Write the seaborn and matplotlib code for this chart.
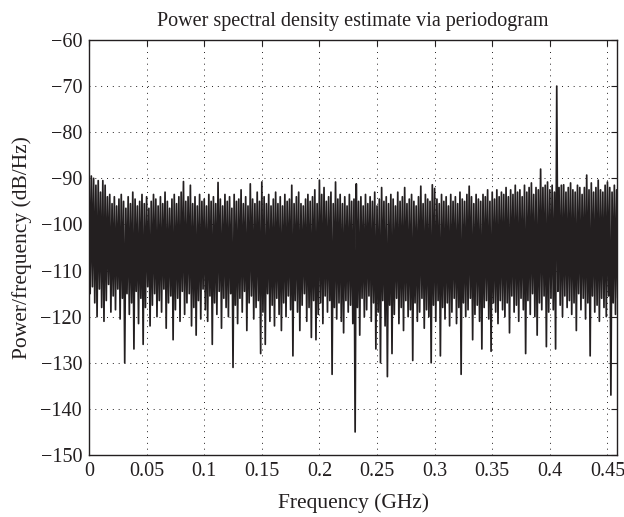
import numpy as np
import pandas as pd
import matplotlib
matplotlib.use("Agg")
import matplotlib.pyplot as plt
import seaborn as sns

# Upper excursions of the periodogram (dB/Hz), one per 0.002 GHz bin pair
hi_vals = [
    -88.0, -89.5, -90.0, -91.5, -90.5, -93.0, -90.5, -91.5, -94.0, -93.5,
    -95.5, -94.0, -96.0, -94.5, -93.5, -95.0, -96.5, -94.0, -95.5, -93.0,
    -94.5, -96.0, -95.0, -93.5, -95.5, -94.0, -96.5, -95.0, -93.5, -94.5,
    -96.0, -94.0, -95.5, -93.0, -95.0, -96.5, -94.5, -93.5, -95.5, -94.0,
    -93.0, -90.7, -95.0, -94.0, -91.5, -95.5, -94.0, -96.0, -93.5, -95.0,
    -94.5, -96.0, -93.5, -95.0, -94.0, -95.5, -90.9, -94.5, -96.0, -93.5,
    -95.0, -94.0, -96.5, -93.5, -95.0, -94.5, -92.5, -95.5, -94.0, -96.0,
    -91.2, -94.5, -95.5, -93.0, -95.0, -90.8, -94.0, -95.5, -93.5, -96.0,
    -94.5, -93.0, -95.5, -94.0, -96.0, -93.5, -95.0, -94.5, -91.5, -95.5,
    -94.0, -93.0, -95.5, -96.0, -94.5, -93.5, -95.0, -94.0, -92.5, -95.5,
    -90.4, -93.5, -92.0, -95.0, -94.0, -93.0, -95.5, -90.8, -94.5, -93.5,
    -95.5, -94.0, -96.0, -93.5, -95.0, -94.5, -91.2, -95.0, -94.0, -96.0,
    -93.5, -95.5, -94.0, -95.0, -93.0, -96.0, -94.5, -92.0, -95.0, -94.0,
    -95.5, -93.5, -94.5, -96.0, -93.0, -95.0, -94.0, -92.0, -95.5, -94.5,
    -93.5, -95.0, -96.0, -94.0, -91.7, -95.5, -93.5, -94.5, -95.0, -91.4,
    -92.2, -94.5, -95.5, -93.5, -95.0, -94.0, -96.0, -93.5, -95.0, -94.0,
    -95.5, -93.0, -94.5, -95.0, -93.5, -91.7, -94.0, -95.5, -93.5, -94.5,
    -95.0, -93.5, -94.0, -92.5, -95.0, -93.0, -94.5, -92.5, -94.0, -93.0,
    -93.5, -92.0, -94.0, -92.5, -93.5, -91.5, -93.0, -92.5, -94.0, -91.5,
    -93.0, -92.0, -91.0, -93.5, -92.0, -92.5, -88.0, -92.0, -91.5, -90.8,
    -92.5, -91.5, -93.0, -70.0, -92.0, -91.5, -91.4, -93.0, -92.0, -91.0,
    -92.5, -93.0, -91.5, -92.0, -93.5, -92.0, -89.3, -92.5, -91.0, -93.0,
    -92.0, -90.4, -92.5, -93.0, -91.5, -90.8, -92.0, -93.0, -91.5, -92.5,
]

# Lower excursions of the periodogram (dB/Hz)
lo_vals = [
    -115.0, -113.5, -117.0, -120.0, -114.0, -118.0, -121.0, -116.5, -113.0, -119.0,
    -115.5, -118.5, -114.0, -120.5, -116.0, -130.0, -115.0, -119.5, -117.0, -127.0,
    -114.5, -121.5, -116.0, -126.0, -118.0, -113.5, -122.0, -117.5, -115.0, -120.0,
    -116.5, -119.0, -114.0, -122.5, -117.0, -115.5, -125.0, -118.5, -116.0, -121.0,
    -114.5, -119.5, -117.0, -115.0, -122.0, -118.0, -124.0, -116.5, -120.5, -114.0,
    -118.5, -121.0, -115.5, -126.0, -117.0, -119.5, -114.5, -122.5, -116.0, -118.0,
    -120.0, -115.0, -131.0, -117.5, -121.5, -116.0, -119.0, -114.5, -123.0, -117.0,
    -115.5, -120.5, -118.0, -116.5, -128.0, -119.0, -126.0, -115.0, -121.0, -117.5,
    -122.0, -116.0, -119.5, -123.0, -117.0, -120.0, -115.5, -118.5, -128.5, -116.5,
    -119.0, -123.0, -117.5, -115.0, -121.0, -118.0, -124.5, -116.5, -125.0, -119.5,
    -117.0, -121.5, -115.5, -119.0, -116.5, -132.5, -118.0, -120.5, -117.0, -121.0,
    -123.5, -116.5, -119.0, -117.5, -121.5, -145.0, -118.0, -124.0, -116.0, -120.0,
    -118.5, -115.5, -121.0, -117.0, -127.0, -119.0, -130.0, -116.5, -122.0, -133.0,
    -117.5, -128.0, -119.5, -116.0, -121.5, -118.0, -123.0, -116.5, -120.0, -118.5,
    -129.5, -117.0, -121.0, -119.0, -116.0, -122.5, -118.5, -120.0, -130.0, -117.5,
    -121.0, -116.5, -128.5, -118.0, -120.5, -117.0, -122.0, -119.0, -116.0, -121.5,
    -118.0, -132.5, -117.0, -120.0, -118.5, -116.0, -125.0, -119.5, -117.5, -121.0,
    -127.0, -118.0, -116.5, -120.5, -127.5, -117.0, -119.0, -121.5, -116.5, -118.5,
    -120.0, -117.0, -123.5, -115.5, -119.0, -117.5, -121.0, -116.0, -118.5, -128.0,
    -116.5, -119.5, -115.0, -120.0, -124.0, -117.0, -118.5, -115.5, -126.5, -119.0,
    -116.0, -118.5, -127.0, -114.5, -117.5, -120.0, -115.5, -118.0, -116.5, -119.5,
    -117.0, -123.0, -115.0, -118.5, -116.0, -120.5, -117.0, -128.5, -115.5, -119.0,
    -117.5, -121.0, -116.0, -118.0, -120.0, -115.5, -137.0, -117.0, -119.5, -116.0,
]

bin_step = 0.001  # GHz between consecutive periodogram samples
x_ticks = [0, 0.05, 0.1, 0.15, 0.2, 0.25, 0.3, 0.35, 0.4, 0.45]
x_tick_labels = ["0", "0.05", "0.1", "0.15", "0.2", "0.25", "0.3", "0.35", "0.4", "0.45"]
y_ticks = [-150, -140, -130, -120, -110, -100, -90, -80, -70, -60]

# interleave upper/lower samples into one periodogram trace
psd = []
for h, l in zip(hi_vals, lo_vals):
    psd.append(h)
    psd.append(l)
freq = np.arange(len(psd)) * bin_step
df = pd.DataFrame({"Frequency": freq, "PSD": psd})

sns.set_theme(style="white")
plt.rcParams["font.family"] = ["Liberation Serif", "DejaVu Serif"]
plt.rcParams["axes.unicode_minus"] = True

fig = plt.figure(figsize=(6.24, 5.17), dpi=100)
ax = fig.add_axes([89 / 624, 62 / 517, 528 / 624, 415 / 517])

sns.lineplot(data=df, x="Frequency", y="PSD", ax=ax, color="#231f20",
             linewidth=1.25, estimator=None, sort=False)

ax.set_xlim(0, 0.4583)
ax.set_ylim(-150, -60)
ax.set_xticks(x_ticks)
ax.set_xticklabels(x_tick_labels)
ax.set_yticks(y_ticks)
ax.tick_params(direction="in", length=4, width=0.8, colors="#231f20",
               labelsize=14.5, top=True, right=True, pad=5)
ax.grid(True, linestyle=(0, (1, 5)), color="#231f20", linewidth=0.7)
for s in ax.spines.values():
    s.set_visible(True)
    s.set_color("#231f20")
    s.set_linewidth(1.0)

ax.set_title("Power spectral density estimate via periodogram", fontsize=14.5,
             color="#231f20", pad=10)
ax.set_xlabel("Frequency (GHz)", fontsize=15.5, color="#231f20", labelpad=9)
ax.set_ylabel("Power/frequency (dB/Hz)", fontsize=15.5, color="#231f20", labelpad=6)

fig.savefig("out.png", dpi=100, facecolor="white")
